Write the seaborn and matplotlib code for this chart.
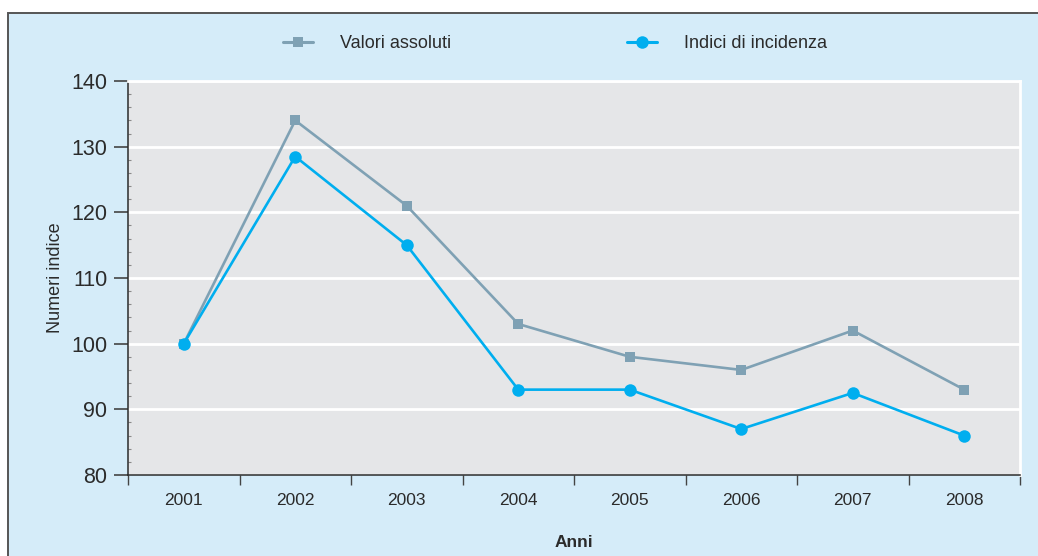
import numpy as np
import pandas as pd
import matplotlib
matplotlib.use("Agg")
import matplotlib.pyplot as plt
from matplotlib.patches import Rectangle
from matplotlib.ticker import MultipleLocator, FixedLocator
import seaborn as sns

# data
anni = ["2001", "2002", "2003", "2004", "2005", "2006", "2007", "2008"]
valori_assoluti = [100, 134, 121, 103, 98, 96, 102, 93]
indici_incidenza = [100, 128.5, 115, 93, 93, 87, 92.5, 86]

serie_names = ["Valori assoluti", "Indici di incidenza"]

df = pd.DataFrame({
    "pos": list(range(len(anni))) * 2,
    "valore": valori_assoluti + indici_incidenza,
    "serie": [serie_names[0]] * len(anni) + [serie_names[1]] * len(anni),
})

sns.set_style("white")
plt.rcParams["font.family"] = ["Liberation Sans", "DejaVu Sans"]

panel_col = "#D5ECF9"
plot_bg = "#E5E6E8"
col_val = "#7FA1B4"
col_ind = "#00AEEF"
dark = "#2B2B2B"

fig = plt.figure(figsize=(10.38, 5.56), dpi=100)
fig.patch.set_facecolor("white")

# light blue panel with dark border line on top and left
W, H = 1038, 556
panel = Rectangle((8 / W, -0.01), 1.02 - 8 / W, 1 - 13 / H + 0.01,
                  transform=fig.transFigure, facecolor=panel_col,
                  edgecolor="#555555", linewidth=1.4, zorder=-5)
fig.patches.append(panel)

ax = fig.add_axes([128 / W, 1 - 475 / H, 892 / W, 394 / H])
ax.set_zorder(1)
ax.set_facecolor(plot_bg)

sns.lineplot(data=df, x="pos", y="valore", hue="serie", style="serie",
             palette={serie_names[0]: col_val, serie_names[1]: col_ind},
             markers={serie_names[0]: "s", serie_names[1]: "o"},
             dashes=False, linewidth=1.9, markeredgewidth=0,
             ax=ax, legend=False, zorder=3)
# marker sizes per series
for line, ms in zip(ax.lines, [7.5, 9]):
    line.set_markersize(ms)

ax.set_xlim(-0.5, len(anni) - 0.5)
ax.set_ylim(80, 140)
ax.yaxis.set_major_locator(MultipleLocator(10))
ax.yaxis.set_minor_locator(MultipleLocator(2))
ax.xaxis.set_major_locator(FixedLocator(range(len(anni))))
ax.set_xticklabels(anni)
ax.xaxis.set_minor_locator(FixedLocator(np.arange(-0.5, len(anni), 1.0)))

ax.grid(axis="y", which="major", color="white", linewidth=2)
ax.set_axisbelow(True)

ax.tick_params(axis="x", which="major", length=0, pad=13, labelsize=12.5, labelcolor=dark)
ax.tick_params(axis="x", which="minor", direction="out", length=7, width=1, color="#444444", bottom=True)
ax.tick_params(axis="y", which="major", direction="out", length=10, width=1.2, color="#444444",
               labelsize=15.5, labelcolor=dark, pad=5, left=True)
ax.tick_params(axis="y", which="minor", direction="in", length=2.5, width=0.8, color="#8a8a8a", left=True)

for s in ["left", "bottom"]:
    ax.spines[s].set_color(dark)
    ax.spines[s].set_linewidth(1.1)
ax.spines["right"].set_color("white")
ax.spines["right"].set_linewidth(2)
ax.spines["top"].set_color("white")
ax.spines["top"].set_linewidth(2)

ax.set_ylabel("Numeri indice", fontsize=13, color=dark)
ax.yaxis.set_label_coords(-0.072, 0.5)
ax.set_xlabel("Anni", fontsize=12.5, fontweight="bold", color=dark)
ax.xaxis.set_label_coords(0.5, -0.152)

# legend on the top of the panel
handles = [
    plt.Line2D([], [], color=col_val, marker="s", markersize=7, linewidth=2.2, markeredgewidth=0),
    plt.Line2D([], [], color=col_ind, marker="o", markersize=9, linewidth=2.2, markeredgewidth=0),
]
fig.legend(handles, serie_names, loc="center", bbox_to_anchor=(555 / W, 1 - 44 / H),
           ncol=2, frameon=False, fontsize=13, handlelength=1.7, handletextpad=1.5,
           columnspacing=9.7, labelcolor=dark)

fig.savefig("out.png", dpi=100, facecolor=fig.get_facecolor())
